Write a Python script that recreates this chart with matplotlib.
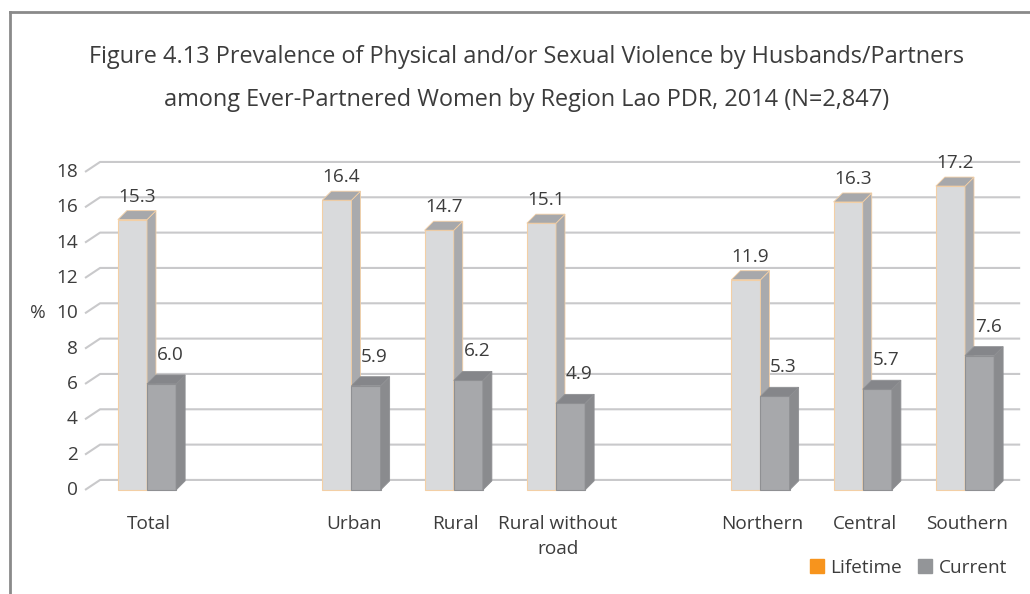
import numpy as np
import matplotlib.pyplot as plt
from matplotlib.patches import Polygon
from matplotlib.lines import Line2D

plt.rcParams['font.family'] = ['Open Sans', 'DejaVu Sans']

# data
groups = [['Total'],
          ['Urban', 'Rural', 'Rural without\nroad'],
          ['Northern', 'Central', 'Southern']]
lifetime = [15.3, 16.4, 14.7, 15.1, 11.9, 16.3, 17.2]
current = [6.0, 5.9, 6.2, 4.9, 5.3, 5.7, 7.6]
yticks = [0, 2, 4, 6, 8, 10, 12, 14, 16, 18]
title_lines = ['Figure 4.13 Prevalence of Physical and/or Sexual Violence by Husbands/Partners',
               'among Ever-Partnered Women by Region Lao PDR, 2014 (N=2,847)']

# positions: one empty slot between groups
labels, xs = [], []
pos = 0
for g in groups:
    for name in g:
        labels.append(name)
        xs.append(pos)
        pos += 1
    pos += 1

txt = '#3c3c3c'
grid_c = '#c9c9cb'
fs = 13.7
W = 0.285          # bar width
bdx, bdy = 0.088, 0.51    # bar depth
wdx, wdy = 0.147, 0.566   # back wall depth
x_front = -0.606
x_end = 8.54

fig = plt.figure(figsize=(10.3, 5.94), dpi=100)
ax = fig.add_axes([0.003738, 0.1157, 0.9927, 0.6543])
ax.set_xlim(-1.4, 8.6)
ax.set_ylim(-2, 20)
ax.axis('off')

# gridlines: diagonal + back wall
for v in yticks:
    ax.plot([x_front, x_front + wdx, x_end], [v, v + wdy, v + wdy],
            color=grid_c, lw=1.5, zorder=1, solid_capstyle='butt')
    ax.text(x_front - 0.07, v, str(v), ha='right', va='center',
            fontsize=fs, color=txt)
ax.text(-1.07, 10, '%', ha='center', va='center', fontsize=fs, color=txt)


def bar3d(x0, h, front, side, top, edge, z):
    ax.add_patch(Polygon([[x0, 0], [x0 + W, 0], [x0 + W, h], [x0, h]],
                         closed=True, facecolor=front, edgecolor=edge, lw=0.8, zorder=z))
    ax.add_patch(Polygon([[x0 + W, 0], [x0 + W + bdx, bdy], [x0 + W + bdx, h + bdy], [x0 + W, h]],
                         closed=True, facecolor=side, edgecolor=edge, lw=0.6, zorder=z))
    ax.add_patch(Polygon([[x0, h], [x0 + W, h], [x0 + W + bdx, h + bdy], [x0 + bdx, h + bdy]],
                         closed=True, facecolor=top, edgecolor=edge, lw=0.6, zorder=z))


for i, x in enumerate(xs):
    bar3d(x - W, lifetime[i], '#d9dadc', '#a9aaad', '#a7a8ab', '#f3cfa5', 2)
    bar3d(x, current[i], '#a7a8ab', '#8a8b8e', '#85868a', '#8f9093', 3)
    ax.text(x - W / 2 + bdx / 2, lifetime[i] + 1.3, f'{lifetime[i]:.1f}',
            ha='center', va='center', fontsize=fs, color=txt, zorder=5)
    ax.text(x + W / 2 + bdx / 2 + 0.04, current[i] + 1.65, f'{current[i]:.1f}',
            ha='center', va='center', fontsize=fs, color=txt, zorder=5)
    ax.text(x + 0.02, -1.4, labels[i], ha='center', va='top', fontsize=fs,
            color=txt, linespacing=1.55)

fig.text(0.511, 1 - 57 / 594, title_lines[0], ha='center', va='center',
         fontsize=16.9, color=txt)
fig.text(0.511, 1 - 100 / 594, title_lines[1], ha='center', va='center',
         fontsize=16.9, color=txt)

handles = [Line2D([], [], marker='s', ls='none', markersize=10, color='#f7941d'),
           Line2D([], [], marker='s', ls='none', markersize=10, color='#939598')]
fig.legend(handles, ['Lifetime', 'Current'], ncol=2, frameon=False,
           loc='center right', bbox_to_anchor=(1024 / 1030, 1 - 568 / 594),
           fontsize=fs, handlelength=0.8, handletextpad=0.3, columnspacing=0.8,
           labelcolor=txt)

# frame
fig.add_artist(Line2D([10 / 1030, 10 / 1030], [0, 1 - 12 / 594], color='#8a8a8a', lw=2))
fig.add_artist(Line2D([10 / 1030, 1], [1 - 12 / 594, 1 - 12 / 594], color='#8a8a8a', lw=2))

fig.savefig('out.png', dpi=100)
